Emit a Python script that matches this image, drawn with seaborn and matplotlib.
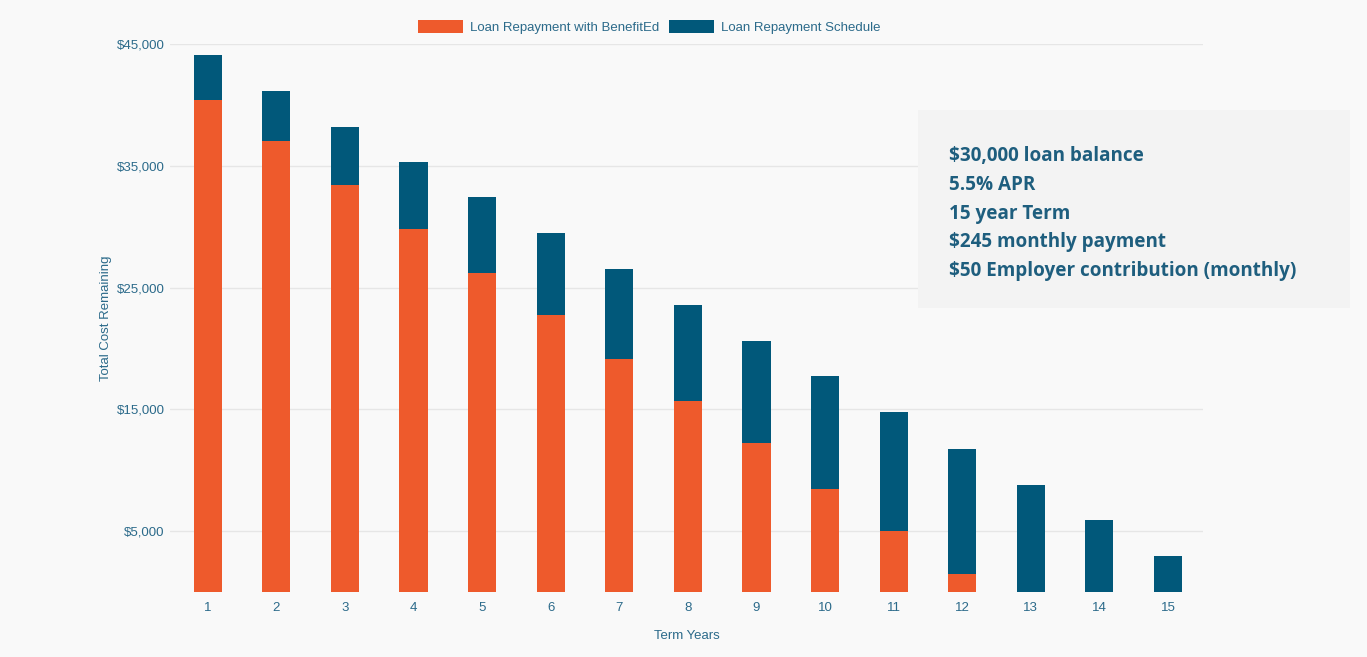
import matplotlib
matplotlib.use("Agg")
import matplotlib.pyplot as plt
import seaborn as sns
import pandas as pd
from matplotlib.patches import Patch, Rectangle

years = [str(i) for i in range(1, 16)]
schedule = [44100, 41150, 38200, 35300, 32400, 29500, 26500, 23600,
            20600, 17700, 14800, 11750, 8800, 5900, 2950]
benefited = [40400, 37000, 33400, 29800, 26200, 22750, 19100, 15700,
             12200, 8500, 5000, 1500, 0, 0, 0]
y_ticks = [5000, 15000, 25000, 35000, 45000]
series_names = ["Loan Repayment with BenefitEd", "Loan Repayment Schedule"]
info_lines = ["$30,000 loan balance", "5.5% APR", "15 year Term",
              "$245 monthly payment", "$50 Employer contribution (monthly)"]

orange = "#EE5A2C"
navy = "#01587A"
text_c = "#2B6A8A"
bg = "#F9F9F9"

sns.set_theme(style="white")
plt.rcParams["font.family"] = ["Liberation Sans", "DejaVu Sans"]

df = pd.DataFrame({"year": years, "schedule": schedule, "benefited": benefited})

fig = plt.figure(figsize=(13.67, 6.57), dpi=100, facecolor=bg)
ax = fig.add_axes([0.1244, 0.0989, 0.7556, 0.8341])
ax.set_facecolor(bg)

sns.barplot(data=df, x="year", y="schedule", color=navy, width=0.41,
            saturation=1, linewidth=0, ax=ax, zorder=3)
sns.barplot(data=df, x="year", y="benefited", color=orange, width=0.41,
            saturation=1, linewidth=0, ax=ax, zorder=4)

ax.set_ylim(0, 45000)
ax.set_xlim(-0.55, 14.51)
ax.set_yticks(y_ticks)
ax.set_yticklabels([f"${v:,.0f}" for v in y_ticks])
ax.grid(axis="y", color="#E6E6E6", linewidth=1, zorder=0)
ax.set_axisbelow(True)
for s in ax.spines.values():
    s.set_visible(False)
ax.tick_params(axis="both", length=0, labelsize=9.5, labelcolor=text_c)
ax.tick_params(axis="x", pad=7)
ax.tick_params(axis="y", pad=4)
ax.set_xlabel("Term Years", fontsize=9.5, color=text_c, labelpad=12)
ax.set_ylabel("Total Cost Remaining", fontsize=9.5, color=text_c, labelpad=3)

handles = [Patch(facecolor=orange, edgecolor="none"),
           Patch(facecolor=navy, edgecolor="none")]
fig.legend(handles, series_names, loc="center", bbox_to_anchor=(0.475, 0.959),
           ncol=2, frameon=False, fontsize=9.5, labelcolor=text_c,
           handlelength=3.4, handleheight=1.1, handletextpad=0.5,
           columnspacing=0.8)

box = Rectangle((918 / 1367, 1 - 308 / 657), (1350 - 918) / 1367, (308 - 110) / 657,
                transform=fig.transFigure, facecolor="#F3F3F3", edgecolor="none",
                zorder=10)
fig.add_artist(box)
ys = [155.5, 184.5, 213.5, 242.5, 271.5]
for line, yy in zip(info_lines, ys):
    fig.text(949 / 1367, 1 - yy / 657, line, fontsize=13.6, fontweight="bold",
             color="#1E5E7E", family=["Open Sans", "DejaVu Sans"], va="center",
             ha="left", zorder=11)

fig.savefig("out.png", dpi=100, facecolor=bg)
